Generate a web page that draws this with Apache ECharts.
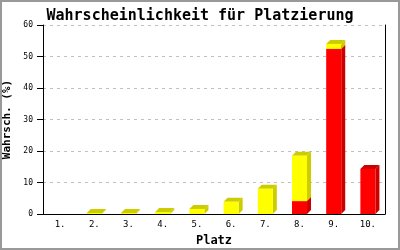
<!DOCTYPE html>
<html><head><meta charset="utf-8">
<script src="https://cdn.jsdelivr.net/npm/echarts@6/dist/echarts.min.js"></script>
<style>html,body{margin:0;padding:0;background:#fff}#c{width:400px;height:250px}</style>
</head><body><div id="c"></div>
<script>
const categories = ['1.','2.','3.','4.','5.','6.','7.','8.','9.','10.'];
const redValues = [0, 0, 0, 0, 0, 0, 0, 4.1, 52.4, 14.3];
const yellowValues = [0, 0.3, 0.3, 0.6, 1.6, 3.9, 8.0, 14.4, 1.6, 0];
const yTicks = {min: 0, max: 60, interval: 10};

const FONT = 'DejaVu Sans Mono';
function makeData(base, vals) {
  return vals.map((v, i) => [i, base[i], base[i] + v]);
}
const zeros = categories.map(() => 0);
const redData = makeData(zeros, redValues);
const yellowData = makeData(redValues, yellowValues);

function render(front, side) {
  return function (params, api) {
    const i = api.value(0), lo = api.value(1), hi = api.value(2);
    if (hi - lo <= 0) return null;
    const pLo = api.coord([i, lo]);
    const pHi = api.coord([i, hi]);
    const w = api.size([1, 0])[0] * 0.44;
    const d = 4;
    const x0 = pLo[0] - w / 2, x1 = pLo[0] + w / 2;
    const y0 = pLo[1], y1 = pHi[1];
    return {
      type: 'group',
      children: [
        {type: 'polygon', shape: {points: [[x1, y1], [x1 + d, y1 - d], [x1 + d, y0 - d], [x1, y0]]}, style: {fill: side}},
        {type: 'polygon', shape: {points: [[x0, y1], [x0 + d, y1 - d], [x1 + d, y1 - d], [x1, y1]]}, style: {fill: side}},
        {type: 'rect', shape: {x: x0, y: y1, width: w, height: y0 - y1}, style: {fill: front}}
      ]
    };
  };
}

const chart = echarts.init(document.getElementById('c'), null, {renderer: 'canvas'});
chart.setOption({
  animation: false,
  backgroundColor: '#fff',
  title: {
    text: 'Wahrscheinlichkeit für Platzierung', left: 'center', top: 4,
    textStyle: {fontFamily: FONT, fontSize: 15, fontWeight: 'bold', color: '#000'}
  },
  grid: {left: 43, right: 15, top: 25, bottom: 36, containLabel: false, outerBoundsMode: 'none'},
  xAxis: {
    type: 'category', data: categories,
    axisLine: {lineStyle: {color: '#000', width: 1}},
    axisTick: {show: false},
    axisLabel: {fontFamily: FONT, fontSize: 9, color: '#000', margin: 6},
    name: 'Platz', nameLocation: 'middle', nameGap: 21,
    nameTextStyle: {fontFamily: FONT, fontSize: 12, fontWeight: 'bold', color: '#000'}
  },
  yAxis: [{
    type: 'value', min: yTicks.min, max: yTicks.max, interval: yTicks.interval,
    axisLine: {show: true, lineStyle: {color: '#000', width: 1}},
    axisTick: {show: true, length: 6, lineStyle: {color: '#000'}},
    axisLabel: {fontFamily: FONT, fontSize: 8, color: '#000', margin: 10},
    splitLine: {lineStyle: {color: '#c0c0c0', type: [3, 4]}},
    name: 'Wahrsch. (%)', nameLocation: 'middle', nameGap: 28,
    nameTextStyle: {fontFamily: FONT, fontSize: 11, fontWeight: 'bold', color: '#000'}
  }, {
    type: 'value', min: yTicks.min, max: yTicks.max, interval: yTicks.interval, position: 'right',
    axisLine: {show: true, lineStyle: {color: '#000', width: 1}},
    axisTick: {show: false}, axisLabel: {show: false}, splitLine: {show: false}
  }],
  series: [
    {type: 'custom', renderItem: render('#ff0000', '#cc0000'), data: redData, encode: {x: 0, y: [1, 2]}},
    {type: 'custom', renderItem: render('#ffff00', '#cccc00'), data: yellowData, encode: {x: 0, y: [1, 2]}}
  ],
  graphic: [{type: 'rect', shape: {x: 1, y: 1, width: 398, height: 248}, style: {fill: 'none', stroke: '#999', lineWidth: 2}, z: 100}]
});
</script></body></html>
